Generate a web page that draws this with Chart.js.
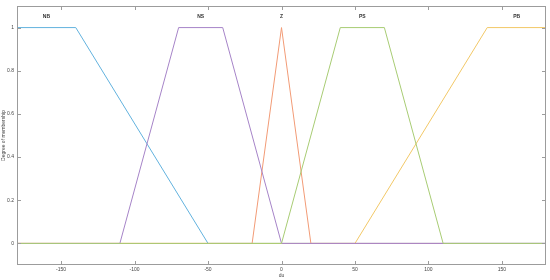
<!DOCTYPE html>
<html lang="en">
  <head>
    <meta charset="UTF-8" />
    <title>Membership functions</title>
    <style>
      html, body { margin: 0; padding: 0; background: #fff; }
      #wrap { width: 550px; height: 280px; }
    </style>
  </head>
  <body>
    <div id="wrap"><canvas id="mf"></canvas></div>
    <script src="https://cdn.jsdelivr.net/npm/chart.js"></script>
    <script>
      // membership function break points (x, degree)
      const nbX = [-180, -140, -50, 180];
      const nbY = [1, 1, 0, 0];
      const nsX = [-180, -110, -70, -40, 0, 180];
      const nsY = [0, 0, 1, 1, 0, 0];
      const zX = [-180, -20, 0, 20, 180];
      const zY = [0, 0, 1, 0, 0];
      const psX = [-180, 0, 40, 70, 110, 180];
      const psY = [0, 0, 1, 1, 0, 0];
      const pbX = [-180, 50, 140, 180];
      const pbY = [0, 0, 1, 1];

      const mfNames = ["NB", "NS", "Z", "PS", "PB"];
      const mfCenters = [-160, -55, 0, 55, 160];
      const xTicks = [-150, -100, -50, 0, 50, 100, 150];
      const yTicks = [0, 0.2, 0.4, 0.6, 0.8, 1];

      const pts = (xs, ys) => xs.map((x, i) => ({ x: x, y: ys[i] }));

      const frame = {
        id: "frame",
        afterDraw(chart) {
          const c = chart.ctx;
          const a = chart.chartArea;
          const xs = chart.scales.x;
          const ys = chart.scales.y;
          c.save();
          c.strokeStyle = "#9c9c9c";
          c.lineWidth = 1;
          c.strokeRect(a.left + 0.5, a.top + 0.5, a.right - a.left - 1, a.bottom - a.top - 1);
          c.beginPath();
          xTicks.forEach((v) => {
            const px = Math.round(xs.getPixelForValue(v)) + 0.5;
            c.moveTo(px, a.bottom);
            c.lineTo(px, a.bottom - 4);
            c.moveTo(px, a.top);
            c.lineTo(px, a.top + 4);
          });
          yTicks.forEach((v) => {
            const py = Math.round(ys.getPixelForValue(v)) + 0.5;
            c.moveTo(a.left, py);
            c.lineTo(a.left + 4, py);
            c.moveTo(a.right, py);
            c.lineTo(a.right - 4, py);
          });
          c.stroke();
          c.fillStyle = "#333";
          c.font = "bold 5px 'Liberation Sans'";
          c.textAlign = "center";
          c.textBaseline = "middle";
          mfNames.forEach((n, i) => {
            c.fillText(n, xs.getPixelForValue(mfCenters[i]), ys.getPixelForValue(1.05));
          });
          c.restore();
        },
      };

      const line = (label, data, color, order) => ({
        label: label,
        data: data,
        borderColor: color,
        borderWidth: 1,
        pointRadius: 0,
        fill: false,
        tension: 0,
        order: order,
      });

      const small = { size: 5, family: "Liberation Sans" };

      new Chart(document.getElementById("mf"), {
        type: "line",
        data: {
          datasets: [
            line("NB", pts(nbX, nbY), "#62b2de", 4),
            line("NS", pts(nsX, nsY), "#a684c8", 1),
            line("Z", pts(zX, zY), "#f29b76", 2),
            line("PS", pts(psX, psY), "#a8cc74", 0),
            line("PB", pts(pbX, pbY), "#f2c867", 3),
          ],
        },
        plugins: [frame],
        options: {
          responsive: true,
          maintainAspectRatio: false,
          animation: false,
          layout: { padding: { top: 3, right: 4, left: 0, bottom: 0 } },
          plugins: { legend: { display: false }, tooltip: { enabled: false } },
          scales: {
            x: {
              type: "linear",
              min: -180,
              max: 180,
              afterBuildTicks: (s) => { s.ticks = xTicks.map((v) => ({ value: v })); },
              afterFit: (s) => { s.height = 15; },
              grid: { display: false, drawTicks: false },
              border: { display: false },
              ticks: { color: "#444", font: small, padding: 2, maxRotation: 0, autoSkip: false },
              title: { display: true, text: "du", color: "#444", font: small, padding: { top: 0, bottom: 1 } },
            },
            y: {
              min: -0.1,
              max: 1.1,
              afterBuildTicks: (s) => { s.ticks = yTicks.map((v) => ({ value: v })); },
              afterFit: (s) => { s.width = 17; },
              grid: { display: false, drawTicks: false },
              border: { display: false },
              ticks: {
                color: "#444",
                font: small,
                padding: 3,
                autoSkip: false,
                callback: (v) => String(Math.round(v * 10) / 10),
              },
              title: { display: true, text: "Degree of membership", color: "#444", font: small, padding: { top: 1, bottom: 0 } },
            },
          },
        },
      });
    </script>
  </body>
</html>
